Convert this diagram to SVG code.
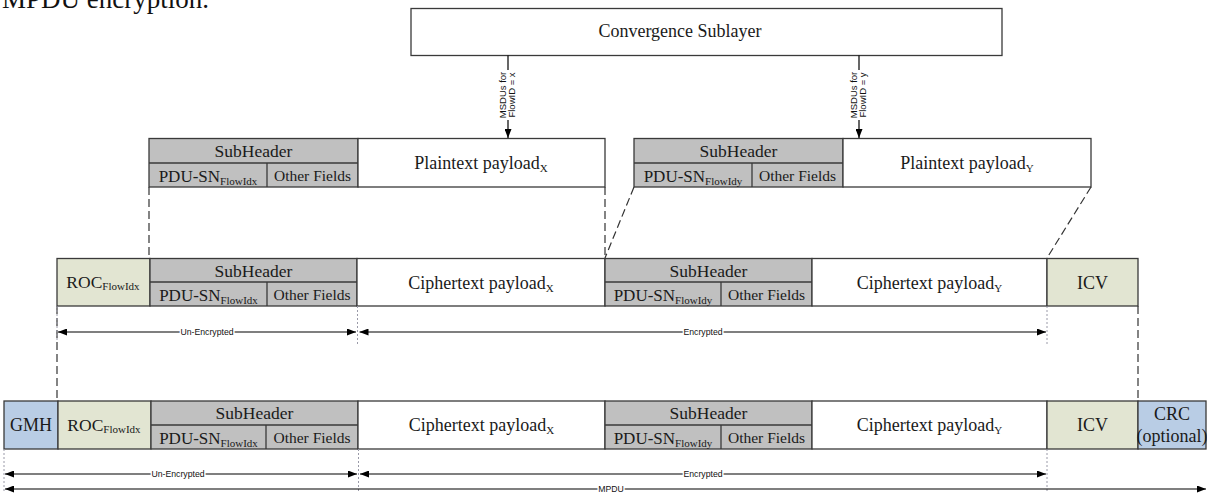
<svg xmlns="http://www.w3.org/2000/svg" width="1207" height="493" viewBox="0 0 1207 493">
  <defs>
    <marker id="head" markerUnits="userSpaceOnUse" markerWidth="9" markerHeight="7" refX="9" refY="3.5" orient="auto-start-reverse">
      <path d="M0,0 L9,3.5 L0,7 z" fill="#000"/>
    </marker>
    <style>
      .bx { stroke:#3a3a3a; stroke-width:1.3; }
      .w { fill:#ffffff; }
      .g { fill:#c0c0c0; }
      .o { fill:#e2e5d2; }
      .b { fill:#b9cde5; }
      .t { font-family:"Liberation Serif","Times New Roman",serif; fill:#1a1a1a; text-anchor:middle; font-size:17.5px; }
      .pdu { font-size:17px; }
      .oth { font-size:15.5px; }
      .big { font-size:18px; }
      .sub { font-size:11px; }
      .s { font-family:"Liberation Sans",Arial,sans-serif; font-size:8.7px; fill:#111; text-anchor:middle; stroke:#fff; stroke-width:3; paint-order:stroke; }
      .ms { font-family:"Liberation Sans",Arial,sans-serif; font-size:9.5px; fill:#111; text-anchor:middle; }
      .dash { stroke:#333; stroke-width:1.2; stroke-dasharray:8 4; fill:none; }
      .dot { stroke:#9a9aa8; stroke-width:1; stroke-dasharray:2 2; fill:none; }
      .ar { stroke:#000; stroke-width:1.2; fill:none; }
      .ar2 { stroke:#000; stroke-width:1.2; fill:none; marker-start:url(#head); marker-end:url(#head); }
      .ln { stroke:#3a3a3a; stroke-width:1.3; }
    </style>
  </defs>

  <!-- running text of the page above the figure -->
  <text x="2" y="8" font-family="Liberation Serif, serif" font-size="27" fill="#111">MPDU encryption.</text>

  <!-- convergence sublayer -->
  <g id="convergence-sublayer">
    <rect class="bx w" x="411" y="8.5" width="591" height="47"/>
    <text class="t big" x="680" y="37">Convergence Sublayer</text>
  </g>

  <!-- top row: flow x -->
  <g id="subheader-x-top">
    <rect class="bx g" x="149" y="138.5" width="209" height="48.5"/>
    <line class="ln" x1="149" y1="163" x2="358" y2="163"/>
    <line class="ln" x1="267" y1="163" x2="267" y2="187"/>
    <text class="t" x="253.5" y="157">SubHeader</text>
    <text class="t pdu" x="208" y="182">PDU-SN<tspan class="sub" dy="3">FlowIdx</tspan></text>
    <text class="t oth" x="312.5" y="181">Other Fields</text>
  </g>
  <g id="plaintext-x">
    <rect class="bx w" x="358" y="138.5" width="247" height="48.5"/>
    <text class="t big" x="481" y="169">Plaintext payload<tspan class="sub" dy="3">X</tspan></text>
  </g>

  <!-- top row: flow y -->
  <g id="subheader-y-top">
    <rect class="bx g" x="634" y="138.5" width="209" height="48.5"/>
    <line class="ln" x1="634" y1="163" x2="843" y2="163"/>
    <line class="ln" x1="752" y1="163" x2="752" y2="187"/>
    <text class="t" x="738.5" y="157">SubHeader</text>
    <text class="t pdu" x="693" y="182">PDU-SN<tspan class="sub" dy="3">FlowIdy</tspan></text>
    <text class="t oth" x="797.5" y="181">Other Fields</text>
  </g>
  <g id="plaintext-y">
    <rect class="bx w" x="843" y="138.5" width="248" height="48.5"/>
    <text class="t big" x="967" y="169">Plaintext payload<tspan class="sub" dy="3">Y</tspan></text>
  </g>

  <!-- middle row: encrypted payload -->
  <g id="roc-mid">
    <rect class="bx o" x="57" y="258.5" width="93" height="47.5"/>
    <text class="t" x="103" y="288">ROC<tspan class="sub" dy="2">FlowIdx</tspan></text>
  </g>
  <g id="subheader-x-mid">
    <rect class="bx g" x="150" y="258.5" width="207" height="47.5"/>
    <line class="ln" x1="150" y1="282" x2="357" y2="282"/>
    <line class="ln" x1="267" y1="282" x2="267" y2="306"/>
    <text class="t" x="253.5" y="277">SubHeader</text>
    <text class="t pdu" x="208.5" y="301">PDU-SN<tspan class="sub" dy="3">FlowIdx</tspan></text>
    <text class="t oth" x="312" y="300">Other Fields</text>
  </g>
  <g id="ciphertext-x-mid">
    <rect class="bx w" x="357" y="258.5" width="248" height="47.5"/>
    <text class="t big" x="481" y="289">Ciphertext payload<tspan class="sub" dy="3">X</tspan></text>
  </g>
  <g id="subheader-y-mid">
    <rect class="bx g" x="605" y="258.5" width="207" height="47.5"/>
    <line class="ln" x1="605" y1="282" x2="812" y2="282"/>
    <line class="ln" x1="721" y1="282" x2="721" y2="306"/>
    <text class="t" x="708.5" y="277">SubHeader</text>
    <text class="t pdu" x="663" y="301">PDU-SN<tspan class="sub" dy="3">FlowIdy</tspan></text>
    <text class="t oth" x="766.5" y="300">Other Fields</text>
  </g>
  <g id="ciphertext-y-mid">
    <rect class="bx w" x="812" y="258.5" width="235" height="47.5"/>
    <text class="t big" x="929.5" y="289">Ciphertext payload<tspan class="sub" dy="3">Y</tspan></text>
  </g>
  <g id="icv-mid">
    <rect class="bx o" x="1047" y="258.5" width="91" height="47.5"/>
    <text class="t big" x="1092.5" y="289">ICV</text>
  </g>

  <!-- bottom row: complete MPDU -->
  <g id="gmh">
    <rect class="bx b" x="4" y="401" width="54" height="48"/>
    <text class="t big" x="31" y="431">GMH</text>
  </g>
  <g id="roc-bottom">
    <rect class="bx o" x="58" y="401" width="93" height="48"/>
    <text class="t" x="104" y="431">ROC<tspan class="sub" dy="2">FlowIdx</tspan></text>
  </g>
  <g id="subheader-x-bottom">
    <rect class="bx g" x="151" y="401" width="207" height="48"/>
    <line class="ln" x1="151" y1="425" x2="358" y2="425"/>
    <line class="ln" x1="266" y1="425" x2="266" y2="449"/>
    <text class="t" x="254.5" y="419">SubHeader</text>
    <text class="t pdu" x="208.5" y="444">PDU-SN<tspan class="sub" dy="3">FlowIdx</tspan></text>
    <text class="t oth" x="312" y="443">Other Fields</text>
  </g>
  <g id="ciphertext-x-bottom">
    <rect class="bx w" x="358" y="401" width="247" height="48"/>
    <text class="t big" x="481.5" y="431">Ciphertext payload<tspan class="sub" dy="3">X</tspan></text>
  </g>
  <g id="subheader-y-bottom">
    <rect class="bx g" x="605" y="401" width="207" height="48"/>
    <line class="ln" x1="605" y1="425" x2="812" y2="425"/>
    <line class="ln" x1="721" y1="425" x2="721" y2="449"/>
    <text class="t" x="708.5" y="419">SubHeader</text>
    <text class="t pdu" x="663" y="444">PDU-SN<tspan class="sub" dy="3">FlowIdy</tspan></text>
    <text class="t oth" x="766.5" y="443">Other Fields</text>
  </g>
  <g id="ciphertext-y-bottom">
    <rect class="bx w" x="812" y="401" width="235" height="48"/>
    <text class="t big" x="929.5" y="431">Ciphertext payload<tspan class="sub" dy="3">Y</tspan></text>
  </g>
  <g id="icv-bottom">
    <rect class="bx o" x="1047" y="401" width="91" height="48"/>
    <text class="t big" x="1092.5" y="431">ICV</text>
  </g>
  <g id="crc">
    <rect class="bx b" x="1138" y="401" width="68" height="48"/>
    <text class="t big" x="1172" y="420">CRC</text>
    <text class="t big" x="1172" y="442">(optional)</text>
  </g>

  <!-- connectors -->
  <g id="connectors">
    <!-- MSDU delivery from the convergence sublayer -->
    <line class="ar" x1="508" y1="55.5" x2="508" y2="70"/>
    <line class="ar" x1="508" y1="120" x2="508" y2="138" marker-end="url(#head)"/>
    <text class="ms" transform="translate(499,95) rotate(-90)"><tspan x="0" y="7">MSDUs for</tspan><tspan x="0" y="15.5">FlowID = x</tspan></text>
    <line class="ar" x1="859" y1="55.5" x2="859" y2="70"/>
    <line class="ar" x1="859" y1="120" x2="859" y2="138" marker-end="url(#head)"/>
    <text class="ms" transform="translate(850,95) rotate(-90)"><tspan x="0" y="7">MSDUs for</tspan><tspan x="0" y="15.5">FlowID = y</tspan></text>

    <!-- mapping between rows -->
    <line class="dash" x1="149" y1="187" x2="149" y2="258"/>
    <line class="dash" x1="605" y1="187" x2="605" y2="258"/>
    <line class="dash" x1="634" y1="187" x2="605" y2="258"/>
    <line class="dash" x1="1091" y1="187" x2="1047" y2="258"/>
    <line class="dash" x1="57" y1="306" x2="57" y2="401"/>
    <line class="dash" x1="1138" y1="306" x2="1138" y2="401"/>

    <!-- extension ticks -->
    <line class="dot" x1="57" y1="306" x2="57" y2="340"/>
    <line class="dot" x1="357.5" y1="306" x2="357.5" y2="346"/>
    <line class="dot" x1="1047" y1="306" x2="1047" y2="346"/>
    <line class="dot" x1="4" y1="449" x2="4" y2="493"/>
    <line class="dot" x1="358.5" y1="449" x2="358.5" y2="493"/>
    <line class="dot" x1="1047" y1="449" x2="1047" y2="493"/>

    <!-- extent arrows, middle row -->
    <line class="ar2" x1="58" y1="332" x2="356" y2="332"/>
    <text class="s" x="207" y="335">Un-Encrypted</text>
    <line class="ar2" x1="359.5" y1="332" x2="1046" y2="332"/>
    <text class="s" x="703" y="335">Encrypted</text>

    <!-- extent arrows, bottom row -->
    <line class="ar2" x1="5" y1="474" x2="357" y2="474"/>
    <text class="s" x="178" y="477">Un-Encrypted</text>
    <line class="ar2" x1="360" y1="474" x2="1046" y2="474"/>
    <text class="s" x="703" y="477">Encrypted</text>
    <line class="ar2" x1="5" y1="489" x2="1206" y2="489"/>
    <text class="s" x="611" y="492">MPDU</text>
  </g>
</svg>
